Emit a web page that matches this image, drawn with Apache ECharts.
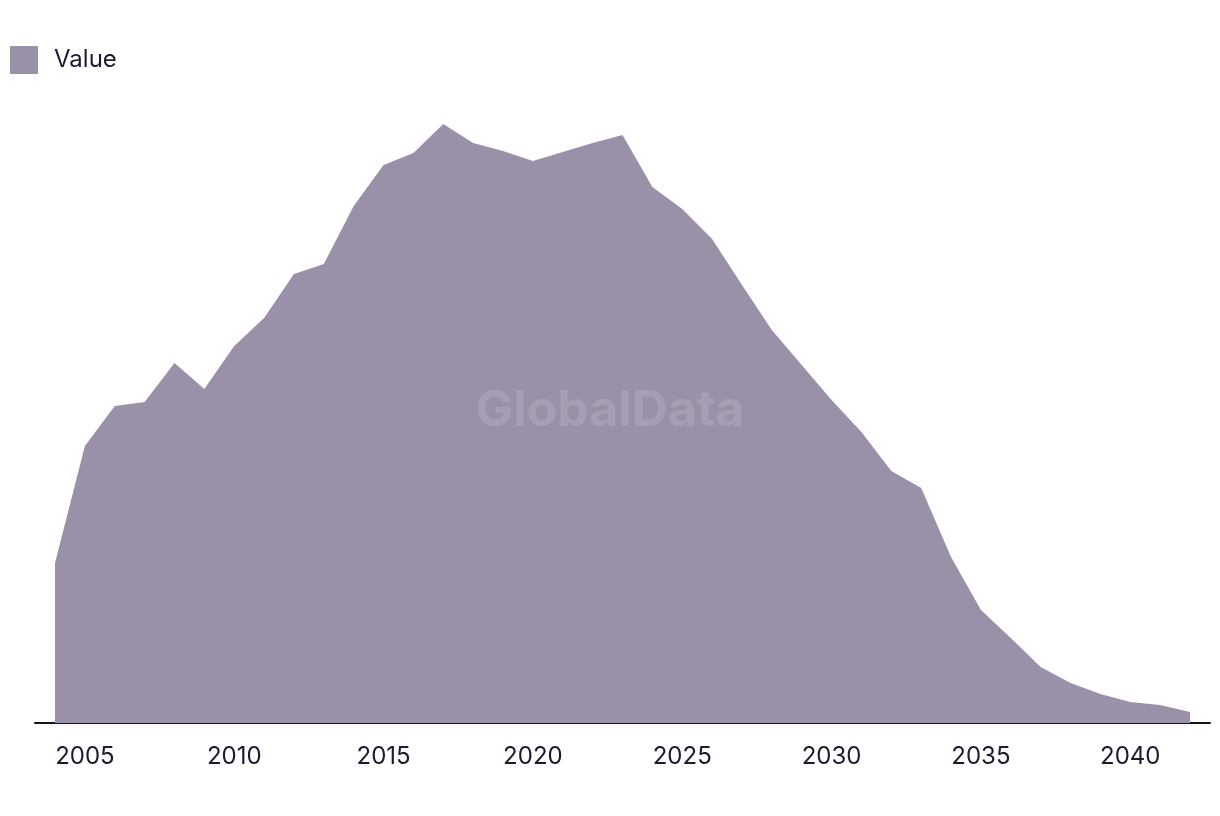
<!DOCTYPE html>
<html>
<head>
<meta charset="utf-8">
<script src="https://cdn.jsdelivr.net/npm/echarts@6/dist/echarts.min.js"></script>
<style>
html,body{margin:0;padding:0;background:#fff;}
#chart{width:1220px;height:816px;}
</style>
</head>
<body>
<div id="chart"></div>
<script>
const years = [2004,2005,2006,2007,2008,2009,2010,2011,2012,2013,2014,2015,2016,2017,2018,2019,2020,2021,2022,2023,2024,2025,2026,2027,2028,2029,2030,2031,2032,2033,2034,2035,2036,2037,2038,2039,2040,2041,2042];
const values = [160,277,317,321,360,334,377,405,449,459,517,558,570,599,580,572,562,571,580,588,536,514,484,438,393,358,323,291,252,235,166,113,85,56,40,29,21,18,11];
const tickLabels = [2005,2010,2015,2020,2025,2030,2035,2040];
const seriesName = 'Value';

const chart = echarts.init(document.getElementById('chart'), null, {renderer:'canvas'});
const data = years.map((y,i)=>[y, values[i]]);
chart.setOption({
  animation:false,
  backgroundColor:'#ffffff',
  textStyle:{fontFamily:'Inter, "Noto Sans", sans-serif'},
  legend:{
    show:true, left:5, top:41, icon:'rect', itemWidth:28, itemHeight:28, itemGap:20,
    textStyle:{fontSize:24, color:'#1b1a2e', padding:[0,0,0,11], fontFamily:'Inter, "Noto Sans", sans-serif'},
    data:[seriesName]
  },
  grid:{left:35, right:10, top:103, bottom:93, containLabel:false},
  xAxis:{
    type:'value', min:2003.33, max:2042.67,
    axisLine:{show:true, lineStyle:{color:'#14132a', width:2}},
    axisTick:{show:false},
    splitLine:{show:false},
    axisLabel:{customValues:tickLabels, color:'#1b1a2e', fontSize:24, margin:22, formatter:v=>String(Math.round(v))}
  },
  yAxis:{type:'value', min:0, max:620, show:false, splitLine:{show:false}},
  graphic:[{
    type:'text', left:'center', top:386, z:100,
    style:{text:'GlobalData', fontSize:50, fontWeight:'bold', fill:'rgba(255,255,255,0.12)', fontFamily:'Inter, "Noto Sans", sans-serif'}
  }],
  series:[{
    name:seriesName, type:'line', data:data, symbol:'none', showSymbol:false,
    lineStyle:{width:0, color:'#9a91a9'}, itemStyle:{color:'#9a91a9'},
    areaStyle:{color:'#9a91a9', opacity:1}, z:2
  }]
});
</script>
</body>
</html>
